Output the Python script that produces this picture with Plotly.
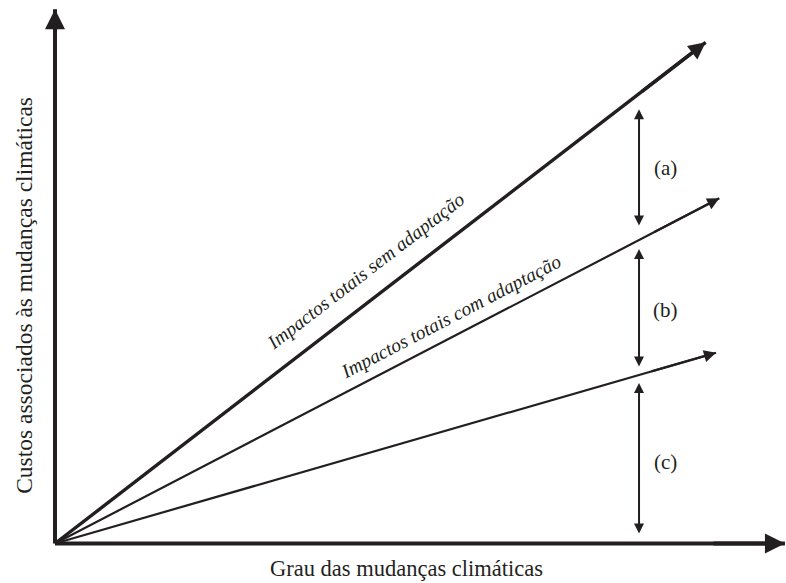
import plotly.graph_objects as go

# ---------------- data (chart units) ----------------
grau_sem = [0, 10.01]      # impactos totais sem adaptação
custo_sem = [0, 7.71]
grau_com = [0, 10.22]      # impactos totais com adaptação
custo_com = [0, 5.31]
grau_res = [0, 10.17]      # linha inferior
custo_res = [0, 2.935]

eixo_x_max = 11.23
eixo_y_max = 8.22

brace_x = 8.985
brace_labels = ["(a)", "(b)", "(c)"]
brace_top = [6.68, 4.53, 2.47]
brace_bottom = [4.87, 2.70, 0.13]
brace_label_y = [5.78, 3.59, 1.25]
brace_label_x = 9.385

label_sem = "Impactos totais sem adaptação"
label_com = "Impactos totais com adaptação"
x_title = "Grau das mudanças climáticas"
y_title = "Custos associados às mudanças climáticas"

# ---------------- layout constants ----------------
W, H = 786, 583
OX, OY = 55, 543.5     # pixel position of origin
PPU = 65               # pixels per unit
INK = "#231f20"
FONT = "'Liberation Serif', 'Times New Roman', 'DejaVu Serif', serif"

fig = go.Figure()

def line(xs, ys, w):
    fig.add_trace(go.Scatter(x=xs, y=ys, mode="lines",
                             line=dict(color=INK, width=w),
                             hoverinfo="skip", showlegend=False))

def head(xs, ys, w, s):
    x0, x1 = xs
    y0, y1 = ys
    f = 0.9
    fig.add_annotation(x=x1, y=y1, ax=x0 + (x1 - x0) * f, ay=y0 + (y1 - y0) * f,
                       xref="x", yref="y", axref="x", ayref="y", text="",
                       showarrow=True, arrowhead=2, arrowwidth=w, arrowsize=s,
                       arrowcolor=INK)

# axes
line([0, eixo_x_max], [0, 0], 4)
line([0, 0], [0, eixo_y_max], 4)
head([0, eixo_x_max], [0, 0], 4, 1.0)
head([0, 0], [0, eixo_y_max], 4, 1.0)

# impact lines
line(grau_sem, custo_sem, 3.4)
head(grau_sem, custo_sem, 3.4, 1.0)
line(grau_com, custo_com, 2.2)
head(grau_com, custo_com, 2.2, 1.1)
line(grau_res, custo_res, 2.2)
head(grau_res, custo_res, 2.2, 1.1)

# double arrows
for lab, yt, yb, ly in zip(brace_labels, brace_top, brace_bottom, brace_label_y):
    fig.add_annotation(x=brace_x, y=yt, ax=brace_x, ay=yb,
                       xref="x", yref="y", axref="x", ayref="y", text="",
                       showarrow=True, arrowhead=2, startarrowhead=2,
                       arrowside="end+start", arrowwidth=2, arrowsize=1.0,
                       startarrowsize=1.0, arrowcolor=INK)
    fig.add_annotation(x=brace_label_x, y=ly, xref="x", yref="y", text=lab,
                       showarrow=False, xanchor="center", yanchor="middle",
                       font=dict(family=FONT, size=21, color=INK))

# rotated line labels
fig.add_annotation(x=4.77, y=4.19, xref="x", yref="y", text="<i>" + label_sem + "</i>",
                   showarrow=False, textangle=-37.6, xanchor="center", yanchor="middle",
                   font=dict(family=FONT, size=19.5, color=INK))
fig.add_annotation(x=6.09, y=3.50, xref="x", yref="y", text="<i>" + label_com + "</i>",
                   showarrow=False, textangle=-27.5, xanchor="center", yanchor="middle",
                   font=dict(family=FONT, size=19.5, color=INK))

# axis titles
fig.add_annotation(x=5.415, y=0.0, xref="x", yref="paper", text=x_title,
                   showarrow=False, xanchor="center", yanchor="bottom", borderpad=0,
                   yshift=1,
                   font=dict(family=FONT, size=22.5, color=INK))
fig.add_annotation(x=-0.477, y=3.81, xref="x", yref="y", text=y_title,
                   showarrow=False, textangle=-90, xanchor="center", yanchor="middle",
                   font=dict(family=FONT, size=23.5, color=INK))

fig.update_layout(
    width=W, height=H, autosize=False,
    margin=dict(l=0, r=0, t=0, b=0, pad=0),
    paper_bgcolor="white", plot_bgcolor="white",
    font=dict(family=FONT, color=INK),
    xaxis=dict(range=[-OX / PPU, (W - OX) / PPU], visible=False, fixedrange=True),
    yaxis=dict(range=[-(H - OY) / PPU, OY / PPU], visible=False, fixedrange=True),
    showlegend=False,
)

fig.write_html("out.html", config={"displayModeBar": False},
               post_script="document.body.style.margin='0px';document.body.style.overflow='hidden';")
